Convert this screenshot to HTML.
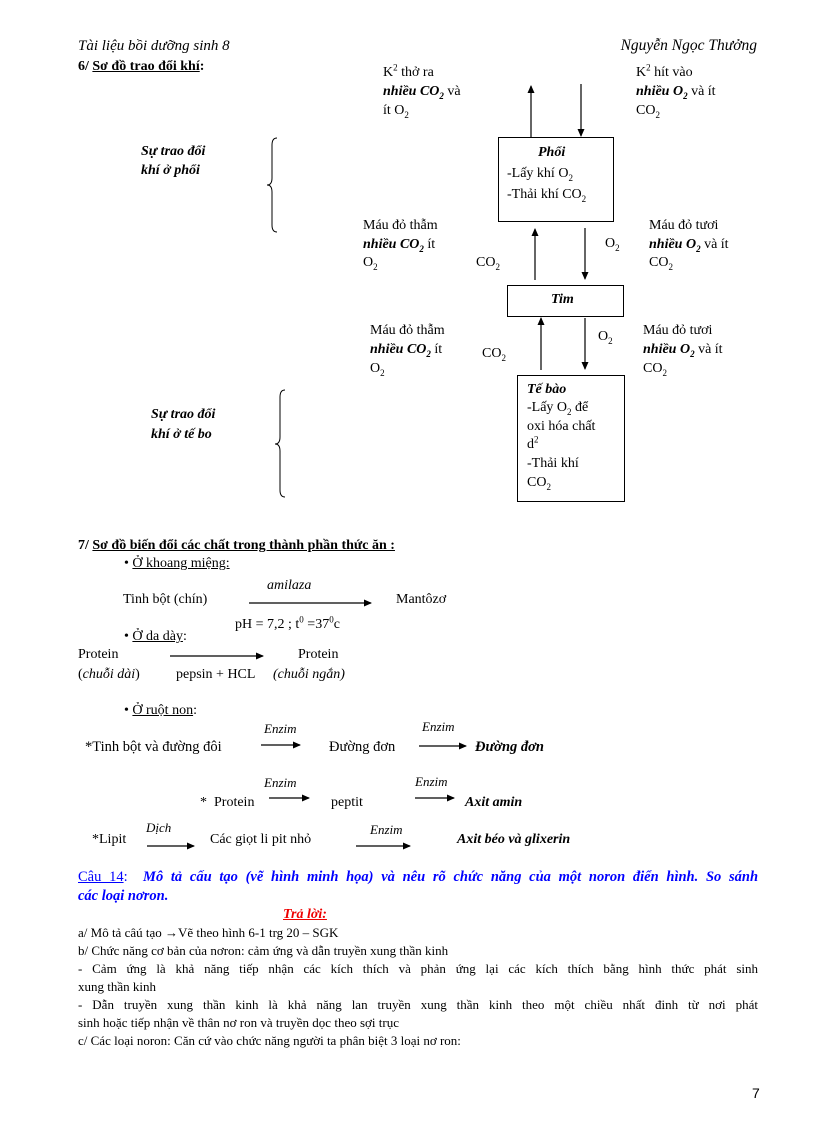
<!DOCTYPE html>
<html><head><meta charset="utf-8"><style>
body{margin:0;background:#fff;}
#p{position:relative;width:816px;height:1123px;overflow:hidden;font-family:"Liberation Serif",serif;font-size:14px;color:#000;}
.t{position:absolute;white-space:nowrap;line-height:18px;}
.bi{font-weight:bold;font-style:italic;}
.box{position:absolute;border:1px solid #000;box-sizing:border-box;}
.j{position:absolute;left:78px;width:680px;line-height:18px;text-align:justify;text-align-last:justify;}
.s{font-size:13px;}
sub{font-size:9px;line-height:0;}
sup{font-size:9px;line-height:0;}
</style></head><body><div id="p">
<div class="t" style="left:78px;top:37px;font-size:15px;font-style:italic">Tài liệu bồi dưỡng sinh 8</div>
<div class="t" style="right:59px;top:37px;font-size:15.5px;font-style:italic">Nguyễn Ngọc Thưởng</div>
<div class="t" style="left:78px;top:58px;font-weight:bold">6/ <u>Sơ đồ trao đổi khí</u>:</div>

<svg style="position:absolute;left:0;top:0" width="816" height="1123">
<defs><marker id="a" markerWidth="8" markerHeight="8" refX="7" refY="4" orient="auto" markerUnits="userSpaceOnUse"><path d="M0,0.5L8,4L0,7.5z" fill="#000"/></marker></defs>
<g stroke="#000" stroke-width="1.2" fill="none">
<line x1="531" y1="137" x2="531" y2="86" marker-end="url(#a)"/>
<line x1="581" y1="84" x2="581" y2="136" marker-end="url(#a)"/>
<line x1="535" y1="280" x2="535" y2="229" marker-end="url(#a)"/>
<line x1="585" y1="228" x2="585" y2="279" marker-end="url(#a)"/>
<line x1="541" y1="370" x2="541" y2="318" marker-end="url(#a)"/>
<line x1="585" y1="318" x2="585" y2="369" marker-end="url(#a)"/>
<path d="M277,138 Q272,138 272,145 L272,178 Q272,185 267,185 Q272,185 272,192 L272,225 Q272,232 277,232" stroke-width="1"/>
<path d="M285,390 Q280,390 280,397 L280,437 Q280,444 275,444 Q280,444 280,451 L280,490 Q280,497 285,497" stroke-width="1"/>
<line x1="249" y1="603" x2="371" y2="603" marker-end="url(#a)"/>
<line x1="170" y1="656" x2="263" y2="656" marker-end="url(#a)"/>
<line x1="261" y1="745" x2="300" y2="745" marker-end="url(#a)"/>
<line x1="419" y1="746" x2="466" y2="746" marker-end="url(#a)"/>
<line x1="269" y1="798" x2="309" y2="798" marker-end="url(#a)"/>
<line x1="415" y1="798" x2="454" y2="798" marker-end="url(#a)"/>
<line x1="147" y1="846" x2="194" y2="846" marker-end="url(#a)"/>
<line x1="356" y1="846" x2="410" y2="846" marker-end="url(#a)"/>
</g></svg>

<div class="t" style="left:383px;top:64px">K<sup>2</sup> thở ra</div>
<div class="t" style="left:383px;top:83px"><span class="bi">nhiều CO<sub>2</sub></span> và</div>
<div class="t" style="left:383px;top:102px">ít O<sub>2</sub></div>
<div class="t" style="left:636px;top:64px">K<sup>2</sup> hít vào</div>
<div class="t" style="left:636px;top:83px"><span class="bi">nhiều O<sub>2</sub></span> và ít</div>
<div class="t" style="left:636px;top:102px">CO<sub>2</sub></div>

<div class="box" style="left:498px;top:137px;width:116px;height:85px"></div>
<div class="t bi" style="left:538px;top:144px">Phổi</div>
<div class="t" style="left:507px;top:165px">-Lấy khí O<sub>2</sub></div>
<div class="t" style="left:507px;top:186px">-Thải khí CO<sub>2</sub></div>

<div class="t bi" style="left:141px;top:143px">Sự trao đổi</div>
<div class="t bi" style="left:141px;top:162px">khí ở phổi</div>

<div class="t" style="left:363px;top:217px">Máu đỏ thẫm</div>
<div class="t" style="left:363px;top:236px"><span class="bi">nhiều CO<sub>2</sub></span> ít</div>
<div class="t" style="left:363px;top:254px">O<sub>2</sub></div>
<div class="t" style="left:476px;top:254px">CO<sub>2</sub></div>
<div class="t" style="left:605px;top:235px">O<sub>2</sub></div>
<div class="t" style="left:649px;top:217px">Máu đỏ tươi</div>
<div class="t" style="left:649px;top:236px"><span class="bi">nhiều O<sub>2</sub></span> và ít</div>
<div class="t" style="left:649px;top:254px">CO<sub>2</sub></div>

<div class="box" style="left:507px;top:285px;width:117px;height:32px"></div>
<div class="t bi" style="left:551px;top:291px">Tim</div>

<div class="t" style="left:370px;top:322px">Máu đỏ thẫm</div>
<div class="t" style="left:370px;top:341px"><span class="bi">nhiều CO<sub>2</sub></span> ít</div>
<div class="t" style="left:370px;top:360px">O<sub>2</sub></div>
<div class="t" style="left:482px;top:345px">CO<sub>2</sub></div>
<div class="t" style="left:598px;top:328px">O<sub>2</sub></div>
<div class="t" style="left:643px;top:322px">Máu đỏ tươi</div>
<div class="t" style="left:643px;top:341px"><span class="bi">nhiều O<sub>2</sub></span> và ít</div>
<div class="t" style="left:643px;top:360px">CO<sub>2</sub></div>

<div class="box" style="left:517px;top:375px;width:108px;height:127px"></div>
<div class="t bi" style="left:527px;top:381px">Tế bào</div>
<div class="t" style="left:527px;top:399px">-Lấy O<sub>2</sub> để</div>
<div class="t" style="left:527px;top:418px">oxi hóa chất</div>
<div class="t" style="left:527px;top:436px">d<sup>2</sup></div>
<div class="t" style="left:527px;top:455px">-Thải khí</div>
<div class="t" style="left:527px;top:474px">CO<sub>2</sub></div>

<div class="t bi" style="left:151px;top:406px">Sự trao đổi</div>
<div class="t bi" style="left:151px;top:426px">khí ở tế bo</div>

<div class="t" style="left:78px;top:537px;font-weight:bold">7/ <u>Sơ đồ biến đổi các chất trong thành phần thức ăn :</u></div>
<div class="t" style="left:124px;top:555px">• <u>Ở khoang miệng: </u></div>
<div class="t" style="left:123px;top:591px">Tinh bột (chín)</div>
<div class="t" style="left:267px;top:577px;font-style:italic">amilaza</div>
<div class="t" style="left:396px;top:591px">Mantôzơ</div>
<div class="t" style="left:235px;top:616px">pH = 7,2 ; t<sup>0</sup> =37<sup>0</sup>c</div>
<div class="t" style="left:124px;top:628px">• <u>Ở da dày</u>:</div>
<div class="t" style="left:78px;top:646px">Protein</div>
<div class="t" style="left:78px;top:666px">(<i>chuỗi dài</i>)</div>
<div class="t" style="left:298px;top:646px">Protein</div>
<div class="t" style="left:176px;top:666px">pepsin + HCL</div>
<div class="t" style="left:273px;top:666px"><i>(chuỗi ngắn)</i></div>
<div class="t" style="left:124px;top:702px">• <u>Ở ruột non</u>:</div>

<div class="t" style="left:264px;top:720px;font-style:italic;font-size:13px">Enzim</div>
<div class="t" style="left:85px;top:738px;font-size:14.5px">*Tinh bột và đường đôi</div>
<div class="t" style="left:329px;top:738px;font-size:14.5px">Đường đơn</div>
<div class="t" style="left:422px;top:718px;font-style:italic;font-size:13px">Enzim</div>
<div class="t bi" style="left:475px;top:738px;font-size:14.5px">Đường đơn</div>

<div class="t" style="left:264px;top:774px;font-style:italic;font-size:13px">Enzim</div>
<div class="t" style="left:200px;top:794px">* &nbsp;Protein</div>
<div class="t" style="left:331px;top:794px">peptit</div>
<div class="t" style="left:415px;top:773px;font-style:italic;font-size:13px">Enzim</div>
<div class="t bi" style="left:465px;top:794px">Axit amin</div>

<div class="t" style="left:92px;top:831px">*Lipit</div>
<div class="t" style="left:146px;top:819px;font-style:italic;font-size:13px">Dịch</div>
<div class="t" style="left:210px;top:831px">Các giọt li pit nhỏ</div>
<div class="t" style="left:370px;top:821px;font-style:italic;font-size:13px">Enzim</div>
<div class="t bi" style="left:457px;top:831px">Axit béo và glixerin</div>

<div class="j" style="top:868px;color:#00f;font-size:14.5px"><u>Câu 14</u>: &nbsp;<b><i>Mô tả cấu tạo (vẽ hình minh họa) và nêu rõ chức năng của một noron điển hình. So sánh</i></b></div>
<div class="t" style="left:78px;top:887px;color:#00f;font-size:14.5px"><b><i>các loại nơron.</i></b></div>
<div class="t bi" style="left:283px;top:906px;color:#e00;text-decoration:underline">Trả lời:</div>
<div class="t s" style="left:78px;top:924px">a/ Mô tả câú tạo →Vẽ theo hình 6-1 trg 20 – SGK</div>
<div class="t s" style="left:78px;top:942px">b/ Chức năng cơ bản của nơron: cảm ứng và dẫn truyền xung thần kinh</div>
<div class="j s" style="top:960px">- Cảm ứng là khả năng tiếp nhận các kích thích và phản ứng lại các kích thích bằng hình thức phát sinh</div>
<div class="t s" style="left:78px;top:978px">xung thần kinh</div>
<div class="j s" style="top:996px">- Dẫn truyền xung thần kinh là khả năng lan truyền xung thần kinh theo một chiều nhất đinh từ nơi phát</div>
<div class="t s" style="left:78px;top:1014px">sinh hoặc tiếp nhận về thân nơ ron và truyền dọc theo sợi trục</div>
<div class="t s" style="left:78px;top:1032px">c/ Các loại noron: Căn cứ vào chức năng người ta phân biệt 3 loại nơ ron:</div>
<div class="t" style="left:752px;top:1084px;font-family:'Liberation Sans',sans-serif">7</div>
</div></body></html>
